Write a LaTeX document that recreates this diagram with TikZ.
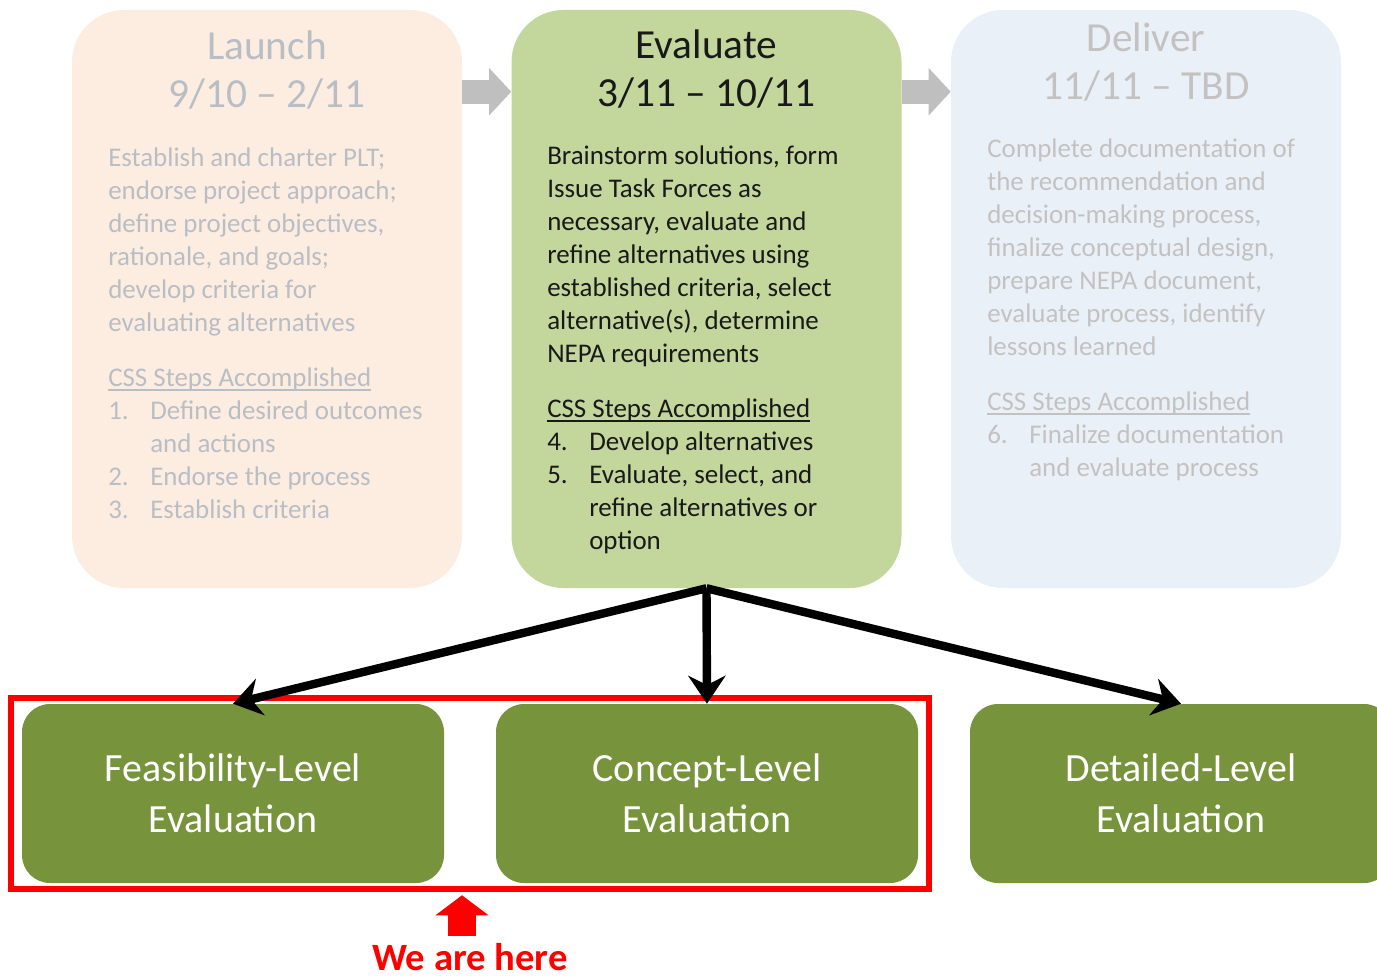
\documentclass[tikz,border=0pt]{standalone}
\usepackage{fontspec}
\setmainfont{Carlito}
\usetikzlibrary{arrows.meta,positioning,calc,fit}
\definecolor{launchfill}{RGB}{253,237,225}
\definecolor{evalfill}{RGB}{195,214,155}
\definecolor{deliverfill}{RGB}{234,240,248}
\definecolor{launchtxt}{RGB}{184,190,198}
\definecolor{delivertxt}{RGB}{196,194,193}
\definecolor{evaltxt}{RGB}{25,25,25}
\definecolor{levelgreen}{RGB}{119,147,60}
\definecolor{blockgray}{RGB}{191,191,191}
\newcommand{\stepno}[1]{\makebox[31.5pt][l]{#1}}
\newcommand{\stepind}{\hspace*{31.5pt}}
\newcommand{\cssline}[1]{\setbox0\hbox{#1}\rlap{\rule[-3.5pt]{\wd0}{1.6pt}}\box0}

\begin{document}
\begin{tikzpicture}[x=0.75pt,y=-0.75pt,
 stagebox/.style={rounded corners=39pt,minimum width=292.5pt,minimum height=433.5pt,inner sep=0pt},
 stagetitle/.style={align=center,inner sep=0pt,anchor=base,font=\fontsize{31pt}{36pt}\selectfont},
 stagetext/.style={align=left,inner sep=0pt,anchor=base west,font=\fontsize{20.2pt}{24.75pt}\selectfont},
 levelbox/.style={fill=levelgreen,rounded corners=21pt,minimum width=316.5pt,minimum height=134.25pt,
  align=center,text=white,font=\fontsize{30pt}{38pt}\selectfont},
 grayarrow/.style={blockgray,line width=18pt,-{Triangle[length=16.5pt,width=34.5pt]}},
 blackarrow/.style={line width=6.3pt,-{Stealth[length=21pt,width=28pt,inset=7pt]}},
 herearrow/.style={red,line width=21pt,-{Triangle[length=15pt,width=39pt]}}]
\useasboundingbox (0,0) rectangle (1377,977);
\clip (0,0) rectangle (1377,977);

\node[stagebox,fill=launchfill] (launch) at (267,299) {};
\node[stagebox,fill=evalfill] (eval) at (706.5,299) {};
\node[stagebox,fill=deliverfill] (deliver) at (1146,299) {};
\foreach \a/\b in {launch/eval,eval/deliver}
 \draw[grayarrow] ($(\a.north east)+(0,82)$) -- ($(\b.north west)+(0,82)$);

% base anchor sits on the last line
\node[stagetitle,text=launchtxt] (launchtitle) at (267,108) {Launch\\9/10 -- 2/11};
\node[stagetext,text=launchtxt] (launchbody) at (108,518) {Establish and charter PLT;\\
 endorse project approach;\\define project objectives,\\rationale, and goals;\\
 develop criteria for\\evaluating alternatives\\[16.5pt]
 \cssline{CSS Steps Accomplished}\\
 \stepno{1.}Define desired outcomes\\\stepind and actions\\
 \stepno{2.}Endorse the process\\
 \stepno{3.}Establish criteria};

\node[stagetitle,text=evaltxt] (evaltitle) at (706.5,107) {Evaluate\\3/11 -- 10/11};
\node[stagetext,text=evaltxt] (evalbody) at (547,549) {Brainstorm solutions, form\\
 Issue Task Forces as\\necessary, evaluate and\\refine alternatives using\\
 established criteria, select\\alternative(s), determine\\NEPA requirements\\[16.5pt]
 \cssline{CSS Steps Accomplished}\\
 \stepno{4.}Develop alternatives\\
 \stepno{5.}Evaluate, select, and\\\stepind refine alternatives or\\\stepind option};

\node[stagetitle,text=delivertxt] (delivertitle) at (1146,100) {Deliver\\11/11 -- TBD};
\node[stagetext,text=delivertxt] (deliverbody) at (987,476) {Complete documentation of\\
 the recommendation and\\decision-making process,\\finalize conceptual design,\\
 prepare NEPA document,\\evaluate process, identify\\lessons learned\\[16.5pt]
 \cssline{CSS Steps Accomplished}\\
 \stepno{6.}Finalize documentation\\\stepind and evaluate process};

\foreach \nm/\cx/\txt in {feas/233/Feasibility-Level,concept/707/Concept-Level,detail/1181/Detailed-Level}
 \node[levelbox] (\nm) at (\cx,793.5) {\txt\\Evaluation};

\node[draw=red,line width=4.5pt,inner xsep=8pt,inner ysep=4.5pt,fit=(feas)(concept)] (here) {};
\foreach \t in {feas,concept,detail}
 \draw[blackarrow] (eval.south) -- (\t.north);

\node[text=red,anchor=base,inner sep=0pt,font=\fontsize{29pt}{34pt}\selectfont\bfseries] (herelabel) at (470,970) {We are here};
\draw[herearrow] ([xshift=-6pt,yshift=5pt]herelabel.north) -- ([xshift=-6pt,yshift=-2.25pt]here.south);
\end{tikzpicture}
\end{document}
